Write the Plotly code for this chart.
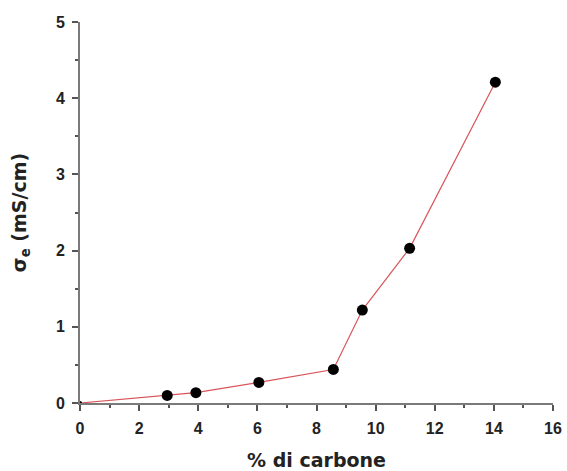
import plotly.graph_objects as go

carbon = [0, 2.95, 3.92, 6.05, 8.57, 9.55, 11.15, 14.05]
sigma = [0.0, 0.10, 0.135, 0.27, 0.44, 1.22, 2.03, 4.21]
msize = [4, 11, 11, 11, 11, 11, 11, 11]

fig = go.Figure()
fig.add_trace(go.Scatter(
    x=carbon, y=sigma, mode="lines+markers",
    line=dict(color="#d9545a", width=1.2),
    marker=dict(color="black", size=msize, line=dict(width=0), opacity=1),
    cliponaxis=False, showlegend=False,
))

fam = "Liberation Sans, Arial, sans-serif"
tfam = "DejaVu Sans, sans-serif"
axfont = dict(family=fam, size=16, color="#222", weight="bold")
common = dict(
    showgrid=False, zeroline=False, showline=True, linecolor="#7a7a7a", linewidth=2,
    ticks="outside", ticklen=6, tickwidth=1.5, tickcolor="#555",
    tickfont=axfont, automargin=False,
)
fig.update_xaxes(range=[0, 16], dtick=2, tick0=0, ticklabelstandoff=4,
                 minor=dict(dtick=1, ticklen=3, ticks="outside", tickcolor="#555"),
                 title=dict(text="% di carbone", font=dict(family=tfam, size=19, color="#222", weight="bold"), standoff=18),
                 **common)
fig.update_yaxes(range=[0, 5], dtick=1, tick0=0, ticklabelstandoff=4,
                 minor=dict(dtick=0.5, ticklen=3, ticks="outside", tickcolor="#555"),
                 title=dict(text="σ<sub>e</sub> (mS/cm)", font=dict(family=tfam, size=19, color="#222", weight="bold"), standoff=24),
                 **common)
fig.update_layout(
    width=567, height=471,
    margin=dict(l=80, r=14, t=22, b=68),
    paper_bgcolor="white", plot_bgcolor="white",
)
fig.write_html("out.html")
